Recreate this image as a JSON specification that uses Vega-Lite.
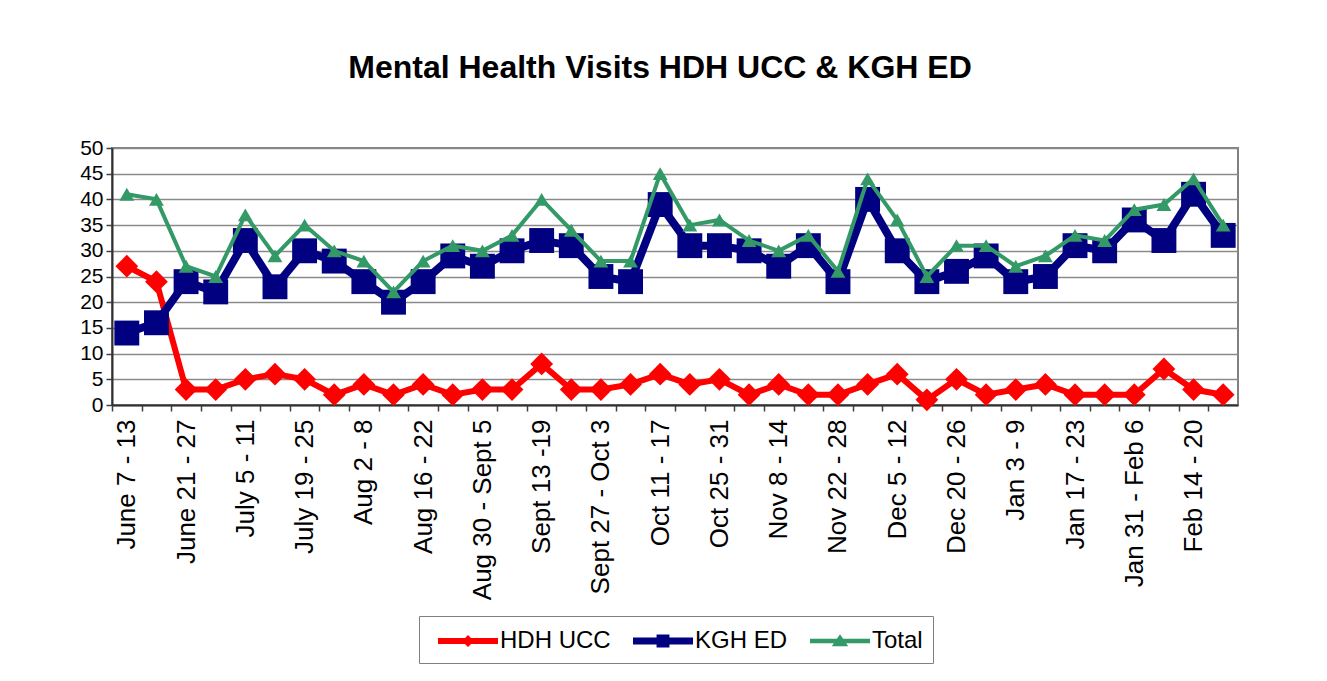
{
  "$schema": "https://vega.github.io/schema/vega-lite/v6.json",
  "width": 1126,
  "height": 257,
  "autosize": {"type": "none"},
  "padding": {"left": 112, "top": 148, "right": 89, "bottom": 276},
  "background": "white",
  "config": {
    "font": "Liberation Sans",
    "view": {"stroke": "#808080", "strokeWidth": 2}
  },
  "title": {
    "text": "Mental Health Visits HDH UCC & KGH ED",
    "fontSize": 32,
    "font": "Liberation Sans",
    "fontWeight": "bold",
    "color": "#000000",
    "anchor": "middle",
    "baseline": "alphabetic",
    "offset": 27,
    "dx": -15
  },
  "data": {
    "values": [
      {"week": "June 7 - 13", "HDH UCC": 27, "KGH ED": 14, "Total": 41},
      {"week": "June 14 - 20", "HDH UCC": 24, "KGH ED": 16, "Total": 40},
      {"week": "June 21 - 27", "HDH UCC": 3, "KGH ED": 24, "Total": 27},
      {"week": "June 28 - July 4", "HDH UCC": 3, "KGH ED": 22, "Total": 25},
      {"week": "July 5 - 11", "HDH UCC": 5, "KGH ED": 32, "Total": 37},
      {"week": "July 12 - 18", "HDH UCC": 6, "KGH ED": 23, "Total": 29},
      {"week": "July 19 - 25", "HDH UCC": 5, "KGH ED": 30, "Total": 35},
      {"week": "July 26 - Aug 1", "HDH UCC": 2, "KGH ED": 28, "Total": 30},
      {"week": "Aug 2 - 8", "HDH UCC": 4, "KGH ED": 24, "Total": 28},
      {"week": "Aug 9 - 15", "HDH UCC": 2, "KGH ED": 20, "Total": 22},
      {"week": "Aug 16 - 22", "HDH UCC": 4, "KGH ED": 24, "Total": 28},
      {"week": "Aug 23 - 29", "HDH UCC": 2, "KGH ED": 29, "Total": 31},
      {"week": "Aug 30 - Sept 5", "HDH UCC": 3, "KGH ED": 27, "Total": 30},
      {"week": "Sept 6 - 12", "HDH UCC": 3, "KGH ED": 30, "Total": 33},
      {"week": "Sept 13 -19", "HDH UCC": 8, "KGH ED": 32, "Total": 40},
      {"week": "Sept 20 - 26", "HDH UCC": 3, "KGH ED": 31, "Total": 34},
      {"week": "Sept 27 - Oct 3", "HDH UCC": 3, "KGH ED": 25, "Total": 28},
      {"week": "Oct 4 - 10", "HDH UCC": 4, "KGH ED": 24, "Total": 28},
      {"week": "Oct 11 - 17", "HDH UCC": 6, "KGH ED": 39, "Total": 45},
      {"week": "Oct 18 - 24", "HDH UCC": 4, "KGH ED": 31, "Total": 35},
      {"week": "Oct 25 - 31", "HDH UCC": 5, "KGH ED": 31, "Total": 36},
      {"week": "Nov 1 - 7", "HDH UCC": 2, "KGH ED": 30, "Total": 32},
      {"week": "Nov 8 - 14", "HDH UCC": 4, "KGH ED": 27, "Total": 30},
      {"week": "Nov 15 - 21", "HDH UCC": 2, "KGH ED": 31, "Total": 33},
      {"week": "Nov 22 - 28", "HDH UCC": 2, "KGH ED": 24, "Total": 26},
      {"week": "Nov 29 - Dec 4", "HDH UCC": 4, "KGH ED": 40, "Total": 44},
      {"week": "Dec 5 - 12", "HDH UCC": 6, "KGH ED": 30, "Total": 36},
      {"week": "Dec 13 - 19", "HDH UCC": 1, "KGH ED": 24, "Total": 25},
      {"week": "Dec 20 - 26", "HDH UCC": 5, "KGH ED": 26, "Total": 31},
      {"week": "Dec 27 - Jan 2", "HDH UCC": 2, "KGH ED": 29, "Total": 31},
      {"week": "Jan 3 - 9", "HDH UCC": 3, "KGH ED": 24, "Total": 27},
      {"week": "Jan 10 - 16", "HDH UCC": 4, "KGH ED": 25, "Total": 29},
      {"week": "Jan 17 - 23", "HDH UCC": 2, "KGH ED": 31, "Total": 33},
      {"week": "Jan 24 - 30", "HDH UCC": 2, "KGH ED": 30, "Total": 32},
      {"week": "Jan 31 - Feb 6", "HDH UCC": 2, "KGH ED": 36, "Total": 38},
      {"week": "Feb 7 - 13", "HDH UCC": 7, "KGH ED": 32, "Total": 39},
      {"week": "Feb 14 - 20", "HDH UCC": 3, "KGH ED": 41, "Total": 44},
      {"week": "Feb 21 - 27", "HDH UCC": 2, "KGH ED": 33, "Total": 35}
    ]
  },
  "transform": [{"fold": ["HDH UCC", "KGH ED", "Total"], "as": ["series", "visits"]}],
  "encoding": {
    "x": {
      "field": "week",
      "type": "ordinal",
      "sort": null,
      "scale": {"type": "point", "padding": 0.5},
      "axis": {
        "title": null,
        "grid": false,
        "labelAngle": 270,
        "labelFontSize": 26,
        "labelColor": "#000000",
        "labelPadding": 8,
        "labelLimit": 400,
        "labelExpr": "indexof(['June 7 - 13','June 21 - 27','July 5 - 11','July 19 - 25','Aug 2 - 8','Aug 16 - 22','Aug 30 - Sept 5','Sept 13 -19','Sept 27 - Oct 3','Oct 11 - 17','Oct 25 - 31','Nov 8 - 14','Nov 22 - 28','Dec 5 - 12','Dec 20 - 26','Jan 3 - 9','Jan 17 - 23','Jan 31 - Feb 6','Feb 14 - 20'], datum.value) >= 0 ? datum.label : ''",
        "tickOffset": -14.82,
        "labelOffset": 14.82,
        "tickSize": 6,
        "tickColor": "#404040",
        "tickWidth": 1.5,
        "domainColor": "#303030",
        "domainWidth": 2,
        "labelOverlap": false,
        "labelBound": false
      }
    },
    "y": {
      "field": "visits",
      "type": "quantitative",
      "scale": {"domain": [0, 50], "nice": false},
      "axis": {
        "title": null,
        "values": [0, 5, 10, 15, 20, 25, 30, 35, 40, 45, 50],
        "labelFontSize": 21,
        "labelColor": "#000000",
        "labelPadding": 3,
        "tickSize": 6,
        "tickColor": "#404040",
        "tickWidth": 1.5,
        "domainColor": "#303030",
        "domainWidth": 2,
        "gridColor": "#8a8a8a",
        "gridWidth": 1.5
      }
    }
  },
  "layer": [
    {
      "transform": [{"filter": "datum.series === 'HDH UCC'"}],
      "mark": {"type": "line", "color": "#FF0000", "strokeWidth": 6},
      "encoding": {}
    },
    {
      "transform": [{"filter": "datum.series === 'HDH UCC'"}],
      "mark": {"type": "point", "shape": "diamond", "filled": true, "color": "#FF0000", "size": 520, "opacity": 1, "strokeWidth": 0}
    },
    {
      "transform": [{"filter": "datum.series === 'KGH ED'"}],
      "mark": {"type": "line", "color": "#000080", "strokeWidth": 8},
      "encoding": {}
    },
    {
      "transform": [{"filter": "datum.series === 'KGH ED'"}],
      "mark": {"type": "point", "shape": "square", "filled": true, "color": "#000080", "size": 620, "opacity": 1, "strokeWidth": 0}
    },
    {
      "transform": [{"filter": "datum.series === 'Total'"}],
      "mark": {"type": "line", "color": "#339966", "strokeWidth": 4},
      "encoding": {}
    },
    {
      "transform": [{"filter": "datum.series === 'Total'"}],
      "mark": {"type": "point", "shape": "triangle-up", "filled": true, "color": "#339966", "size": 220, "opacity": 1, "strokeWidth": 0}
    },
    {
      "transform": [{"filter": "false"}],
      "mark": {"type": "point", "filled": true, "opacity": 1, "strokeWidth": 0},
      "encoding": {
        "color": {
          "field": "series",
          "type": "nominal",
          "scale": {"domain": ["HDH UCC", "KGH ED", "Total"], "range": ["#FF0000", "#000080", "#339966"]},
          "legend": {
            "orient": "none",
            "legendX": 307,
            "legendY": 468,
            "direction": "horizontal",
            "title": null,
            "strokeColor": "#808080",
            "fillColor": "#FFFFFF",
            "padding": 10,
            "symbolSize": 900,
            "symbolOffset": 24,
            "labelOffset": 17,
            "labelFontSize": 24,
            "labelColor": "#000000",
            "columnPadding": 13,
            "symbolStrokeWidth": 0
          }
        },
        "shape": {
          "field": "series",
          "type": "nominal",
          "scale": {
            "domain": ["HDH UCC", "KGH ED", "Total"],
            "range": [
              "M-2,-0.2H2V0.2H-2Z M0,-0.4L0.4,0L0,0.4L-0.4,0Z",
              "M-2,-0.23H2V0.23H-2Z M-0.43,-0.43H0.43V0.43H-0.43Z",
              "M-2,-0.15H2V0.15H-2Z M0,-0.45L0.55,0.35H-0.55Z"
            ]
          },
          "legend": {
            "orient": "none",
            "legendX": 307,
            "legendY": 468,
            "direction": "horizontal",
            "title": null,
            "strokeColor": "#808080",
            "fillColor": "#FFFFFF",
            "padding": 10,
            "symbolSize": 900,
            "symbolOffset": 24,
            "labelOffset": 17,
            "labelFontSize": 24,
            "labelColor": "#000000",
            "columnPadding": 13,
            "symbolStrokeWidth": 0
          }
        }
      }
    }
  ]
}
